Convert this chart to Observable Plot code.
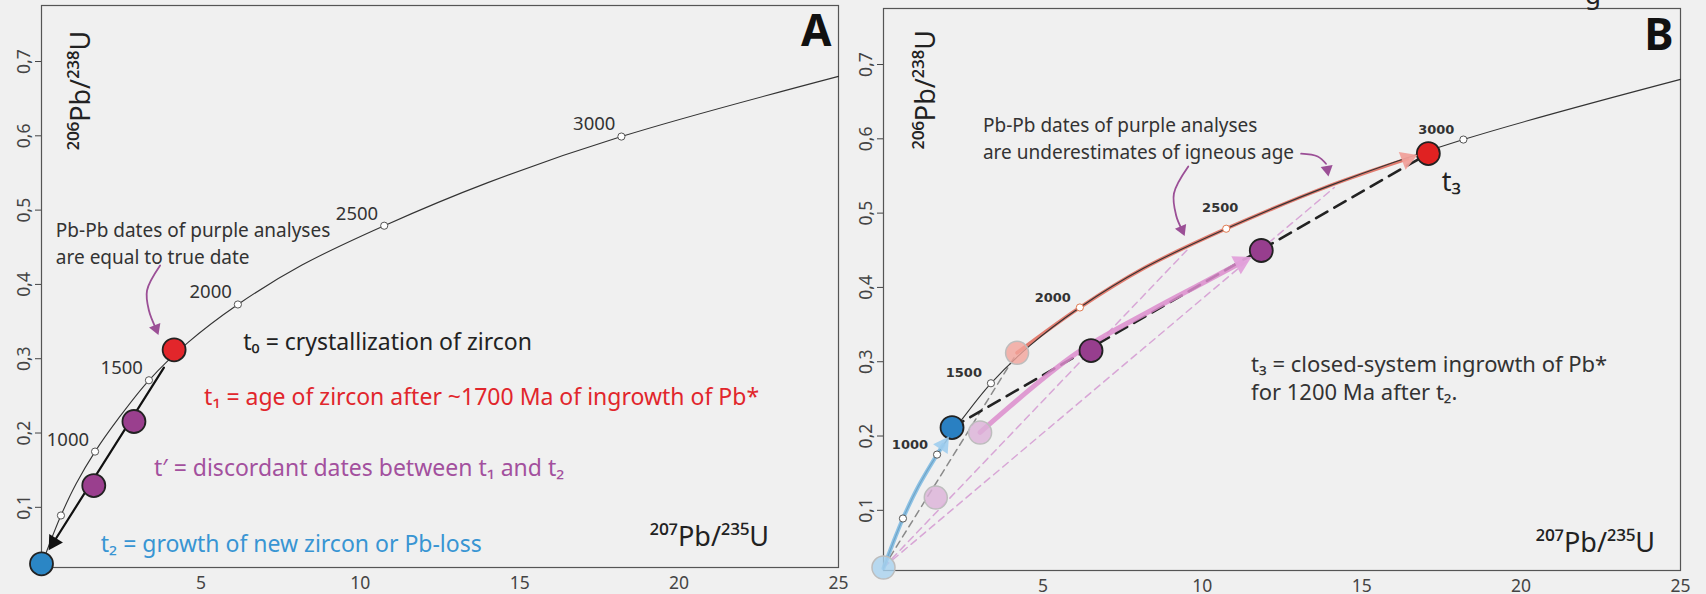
<!DOCTYPE html>
<html><head><meta charset="utf-8">
<script src="https://cdn.jsdelivr.net/npm/d3@7"></script>
<script src="https://cdn.jsdelivr.net/npm/@observablehq/plot@0.6"></script>
<style>
html,body{margin:0;padding:0;background:#f0f0f0;overflow:hidden}
#wrap{position:relative;width:1706px;height:594px;background:#f0f0f0;font-family:"Noto Sans",sans-serif}
#pA{position:absolute;left:0;top:0}
#pB{position:absolute;left:842px;top:0}
#cut{position:absolute;left:1585px;top:-19px;font-size:26px;line-height:26px;color:#222}
</style></head><body>
<div id="wrap"><div id="pA"></div><div id="pB"></div><div id="cut">g</div></div>
<script>
// ---------- data ----------
const yTicks = [0.1, 0.2, 0.3, 0.4, 0.5, 0.6, 0.7];
const xTicks = [5, 10, 15, 20, 25];
// concordia curve as drawn
const concX = [0, 0.28, 0.61, 1.09, 1.68, 2.42, 3.37, 4.60, 6.16, 8.17, 10.75, 14.0, 18.19, 25.0];
const concY = [0.022, 0.054, 0.089, 0.132, 0.175, 0.220, 0.271, 0.322, 0.373, 0.426, 0.479, 0.537, 0.599, 0.680];
// age markers on concordia
const markerAge = [500, 1000, 1500, 2000, 2500, 3000];
const markerX = [0.61, 1.68, 3.37, 6.16, 10.75, 18.19];
const markerY = [0.089, 0.175, 0.271, 0.373, 0.479, 0.599];
const labelledAges = [1000, 1500, 2000, 2500, 3000];

// Panel A analyses
const ptsAName = ["t1", "t'", "t'", "t2"];
const ptsAX = [4.16, 2.90, 1.64, 0];
const ptsAY = [0.312, 0.2155, 0.1293, 0.024];
// discordia arrow A (start, head)
const arrowAX = [3.84, 0.38];
const arrowAY = [0.288, 0.053];
// note arrow A
const noteArrowAX = [3.72, 3.31, 3.37, 3.59];
const noteArrowAY = [0.4254, 0.3918, 0.3649, 0.3406];

// Panel B analyses
const faintName = ["t2 origin", "t1", "t' upper", "t' lower"];
const faintX = [0, 4.19, 3.03, 1.64];
const faintY = [0.023, 0.312, 0.2047, 0.1172];
const solidName = ["t2", "t' 1", "t' 2", "t3"];
const solidX = [2.15, 6.51, 11.85, 17.09];
const solidY = [0.2114, 0.315, 0.4497, 0.5802];
// dashed lines B
const greyDashX = [0, 4.19], greyDashY = [0.023, 0.312];
const blackDashX = [2.15, 17.09], blackDashY = [0.2114, 0.5802];
const pinkDash1X = [0, 9.56], pinkDash1Y = [0.023, 0.452];
const pinkDash2X = [0, 14.14], pinkDash2Y = [0.023, 0.5345];
// growth paths B (last point = arrow head)
const bluePathX = [0, 0.28, 0.61, 1.09, 1.68, 1.874];
const bluePathY = [0.022, 0.054, 0.089, 0.132, 0.175, 0.188];
const redPathX = [4.19, 6.16, 8.17, 10.75, 14.0, 16.43];
const redPathY = [0.312, 0.373, 0.426, 0.479, 0.537, 0.573];
const pinkPathX = [3.03, 6.04, 8.39, 9.97, 11.22];
const pinkPathY = [0.205, 0.311, 0.369, 0.405, 0.4335];
// note arrows B
const noteB1X = [9.56, 9.11, 9.18, 9.36], noteB1Y = [0.5627, 0.5264, 0.4968, 0.4779];
const noteB2X = [13.10, 13.62, 13.88, 13.92], noteB2Y = [0.580, 0.5762, 0.5664, 0.5587];

// ---------- helpers ----------
const zip = (xs, ys, extra = {}) => xs.map((x, i) => {
  const o = {x, y: ys[i]};
  for (const k in extra) o[k] = extra[k][i];
  return o;
});
const last = (a) => [a[a.length - 1]];
const conc = zip(concX, concY);
const markers = zip(markerX, markerY, {age: markerAge});
const labelled = markers.filter(d => labelledAges.includes(d.age));
const FONT = "Noto Sans";
const purple = "#9b4f96";
const yFmt = d => d3.format(".1f")(d).replace(".", ",");

function panel(marksInner, mt, mb) {
  return Plot.plot({
    width: 842, height: 594,
    marginLeft: 41, marginRight: 4, marginTop: mt, marginBottom: mb,
    x: {domain: [0, 25]},
    y: {domain: [0.019, 0.7754]},
    color: {type: "identity"},
    style: {background: "transparent", overflow: "visible", fontFamily: FONT},
    marks: [
      Plot.frame({stroke: "#555", strokeWidth: 1.2}),
      Plot.axisY({ticks: yTicks, tickFormat: yFmt, tickRotate: -90, tickSize: 6, tickPadding: 6,
        fontSize: 17.5, color: "#444", fontFamily: FONT, label: null}),
      Plot.axisX({ticks: xTicks, tickSize: 0, tickPadding: 9, fontSize: 17.5, color: "#444", fontFamily: FONT, label: null}),
      ...marksInner
    ]
  });
}

// ---------- Panel A ----------
const ptsA = zip(ptsAX, ptsAY, {name: ptsAName});
const colA = {"t1": "#e2262b", "t'": "#9a3f8e", "t2": "#2b86c5"};
const arrA = zip(arrowAX, arrowAY);
const noteA = zip(noteArrowAX, noteArrowAY);

const A = panel([
  Plot.line(conc, {x: "x", y: "y", curve: "catmull-rom", stroke: "#333", strokeWidth: 1.1}),
  Plot.dot(markers, {x: "x", y: "y", r: 3.6, fill: "white", stroke: "#555", strokeWidth: 1}),
  Plot.text(labelled, {x: "x", y: "y", text: d => String(d.age), textAnchor: "end", dx: -6, dy: -12,
    fontSize: 18.5, fill: "#333", fontFamily: FONT}),
  Plot.line(arrA, {x: "x", y: "y", stroke: "#111", strokeWidth: 2.2}),
  Plot.dot(last(arrA), {x: "x", y: "y", symbol: "triangle", r: 6, rotate: 212, fill: "#111", stroke: "none"}),
  Plot.line(noteA, {x: "x", y: "y", curve: "catmull-rom", stroke: purple, strokeWidth: 1.8}),
  Plot.dot(last(noteA), {x: "x", y: "y", symbol: "triangle", r: 4.5, rotate: 159, fill: purple, stroke: "none"}),
  Plot.dot(ptsA, {x: "x", y: "y", r: 11.5, fill: d => colA[d.name], stroke: "#222", strokeWidth: 1.8}),
  Plot.text(["Pb-Pb dates of purple analyses\nare equal to true date"], {x: 0.45, y: 0.457, text: d => d,
    textAnchor: "start", fontSize: 19, lineHeight: 1.42, fill: "#333", fontFamily: FONT}),
  Plot.text(["t₀ = crystallization of zircon"], {x: 6.33, y: 0.322, text: d => d, textAnchor: "start",
    fontSize: 23, fill: "#222", fontFamily: FONT}),
  Plot.text(["t₁ = age of zircon after ~1700 Ma of ingrowth of Pb*"], {x: 5.10, y: 0.248, text: d => d,
    textAnchor: "start", fontSize: 23, fill: "#e1262c", fontFamily: FONT}),
  Plot.text(["t′ = discordant dates between t₁ and t₂"], {x: 3.53, y: 0.152, text: d => d,
    textAnchor: "start", fontSize: 23, fill: "#a3509e", fontFamily: FONT}),
  Plot.text(["t₂ = growth of new zircon or Pb-loss"], {x: 1.86, y: 0.050, text: d => d,
    textAnchor: "start", fontSize: 23, fill: "#3895d3", fontFamily: FONT}),
  Plot.text(["²⁰⁷Pb/²³⁵U"], {x: 20.95, y: 0.059, text: d => d, fontSize: 27, fill: "#222", fontFamily: FONT}),
  Plot.text(["²⁰⁶Pb/²³⁸U"], {x: 1.24, y: 0.661, text: d => d, rotate: -90, fontSize: 27, fill: "#222", fontFamily: FONT}),
  Plot.text(["A"], {x: 24.78, y: 0.740, text: d => d, textAnchor: "end", fontSize: 44, fontWeight: "bold", fill: "#111", fontFamily: FONT})
], 5, 27);
document.getElementById("pA").appendChild(A);

// ---------- Panel B ----------
const faint = zip(faintX, faintY, {name: faintName});
const faintCol = {"t2 origin": "#a9d2ef", "t1": "#f2a49b", "t' upper": "#dcb2d8", "t' lower": "#dcb2d8"};
const solid = zip(solidX, solidY, {name: solidName});
const solidCol = {"t2": "#2a80c2", "t' 1": "#973e8e", "t' 2": "#973e8e", "t3": "#e02222"};
const blueP = zip(bluePathX, bluePathY);
const redP = zip(redPathX, redPathY);
const pinkP = zip(pinkPathX, pinkPathY);
const nB1 = zip(noteB1X, noteB1Y);
const nB2 = zip(noteB2X, noteB2Y);
const dash = "7,5";

const B = panel([
  Plot.line(zip(pinkDash1X, pinkDash1Y), {x: "x", y: "y", stroke: "#d8a6d6", strokeWidth: 1.5, strokeDasharray: dash}),
  Plot.line(zip(pinkDash2X, pinkDash2Y), {x: "x", y: "y", stroke: "#d8a6d6", strokeWidth: 1.5, strokeDasharray: dash}),
  Plot.line(zip(greyDashX, greyDashY), {x: "x", y: "y", stroke: "#8a8a8a", strokeWidth: 1.5, strokeDasharray: dash}),
  Plot.line(zip(blackDashX, blackDashY), {x: "x", y: "y", stroke: "#222", strokeWidth: 2.6, strokeDasharray: "13,8"}),
  Plot.line(redP, {x: "x", y: "y", curve: "catmull-rom", stroke: "#e27d70", strokeWidth: 3.6}),
  Plot.line(conc, {x: "x", y: "y", curve: "catmull-rom", stroke: "#333", strokeWidth: 1.1}),
  Plot.line(blueP, {x: "x", y: "y", curve: "catmull-rom", stroke: "#7ab8e2", strokeWidth: 4, strokeOpacity: 0.85}),
  Plot.line(pinkP, {x: "x", y: "y", curve: "catmull-rom", stroke: "#dc8ccc", strokeWidth: 5, strokeOpacity: 0.85}),
  Plot.dot(markers, {x: "x", y: "y", r: 3.6, fill: "white", strokeWidth: 1,
    stroke: d => (d.age >= 2000 && d.age <= 2500) ? "#e07a50" : "#555"}),
  Plot.text(labelled.filter(d => d.age !== 2500), {x: "x", y: "y", text: d => String(d.age), textAnchor: "end",
    dx: -9, dy: -10, fontSize: 13, fontWeight: "bold", fill: "#333", fontFamily: "DejaVu Sans", ariaLabel: "agelabels"}),
  Plot.text(labelled.filter(d => d.age === 2500), {x: "x", y: "y", text: d => String(d.age), textAnchor: "middle",
    dx: -6, dy: -21, fontSize: 13, fontWeight: "bold", fill: "#333", fontFamily: "DejaVu Sans", ariaLabel: "agelabels"}),
  Plot.dot(faint, {x: "x", y: "y", r: 11.5, fill: d => faintCol[d.name], fillOpacity: 0.8, stroke: "#bdbdbd", strokeWidth: 1.5}),
  Plot.dot(solid, {x: "x", y: "y", r: 11.5, fill: d => solidCol[d.name], stroke: "#222", strokeWidth: 1.8}),
  Plot.dot(last(blueP), {x: "x", y: "y", symbol: "triangle", r: 6.5, rotate: 34, fill: "#9fcdee", fillOpacity: 0.9, stroke: "none"}),
  Plot.dot(last(redP), {x: "x", y: "y", symbol: "triangle", r: 7, rotate: 69, fill: "#f0a09a", fillOpacity: 0.95, stroke: "none"}),
  Plot.dot(last(pinkP), {x: "x", y: "y", symbol: "triangle", r: 7.5, rotate: 62, fill: "#e2a0da", fillOpacity: 0.95, stroke: "none"}),
  Plot.line(nB1, {x: "x", y: "y", curve: "catmull-rom", stroke: purple, strokeWidth: 1.8}),
  Plot.dot(last(nB1), {x: "x", y: "y", symbol: "triangle", r: 4.5, rotate: 157, fill: purple, stroke: "none"}),
  Plot.line(nB2.slice(0, 3), {x: "x", y: "y", curve: "catmull-rom", stroke: purple, strokeWidth: 1.8}),
  Plot.dot(last(nB2), {x: "x", y: "y", symbol: "triangle", r: 4.5, rotate: 170, fill: purple, stroke: "none"}),
  Plot.text(["Pb-Pb dates of purple analyses\nare underestimates of igneous age"], {x: 3.12, y: 0.602, text: d => d,
    textAnchor: "start", fontSize: 19, lineHeight: 1.42, fill: "#333", fontFamily: FONT}),
  Plot.text(["t₃ = closed-system ingrowth of Pb*\nfor 1200 Ma after t₂."], {x: 11.53, y: 0.280, text: d => d,
    textAnchor: "start", fontSize: 22, lineHeight: 1.27, fill: "#333", fontFamily: FONT}),
  Plot.text(["t₃"], {x: 17.81, y: 0.541, text: d => d, fontSize: 27, fill: "#222", fontFamily: FONT}),
  Plot.text(["²⁰⁷Pb/²³⁵U"], {x: 22.33, y: 0.055, text: d => d, fontSize: 27, fill: "#222", fontFamily: FONT}),
  Plot.text(["²⁰⁶Pb/²³⁸U"], {x: 1.33, y: 0.666, text: d => d, rotate: -90, fontSize: 27, fill: "#222", fontFamily: FONT}),
  Plot.text(["B"], {x: 24.78, y: 0.738, text: d => d, textAnchor: "end", fontSize: 44, fontWeight: "bold", fill: "#111", fontFamily: FONT})
], 8, 24);
document.getElementById("pB").appendChild(B);
d3.select(B).selectAll('g[aria-label="agelabels"] text').attr("letter-spacing", "2.5");
</script>
</body></html>
